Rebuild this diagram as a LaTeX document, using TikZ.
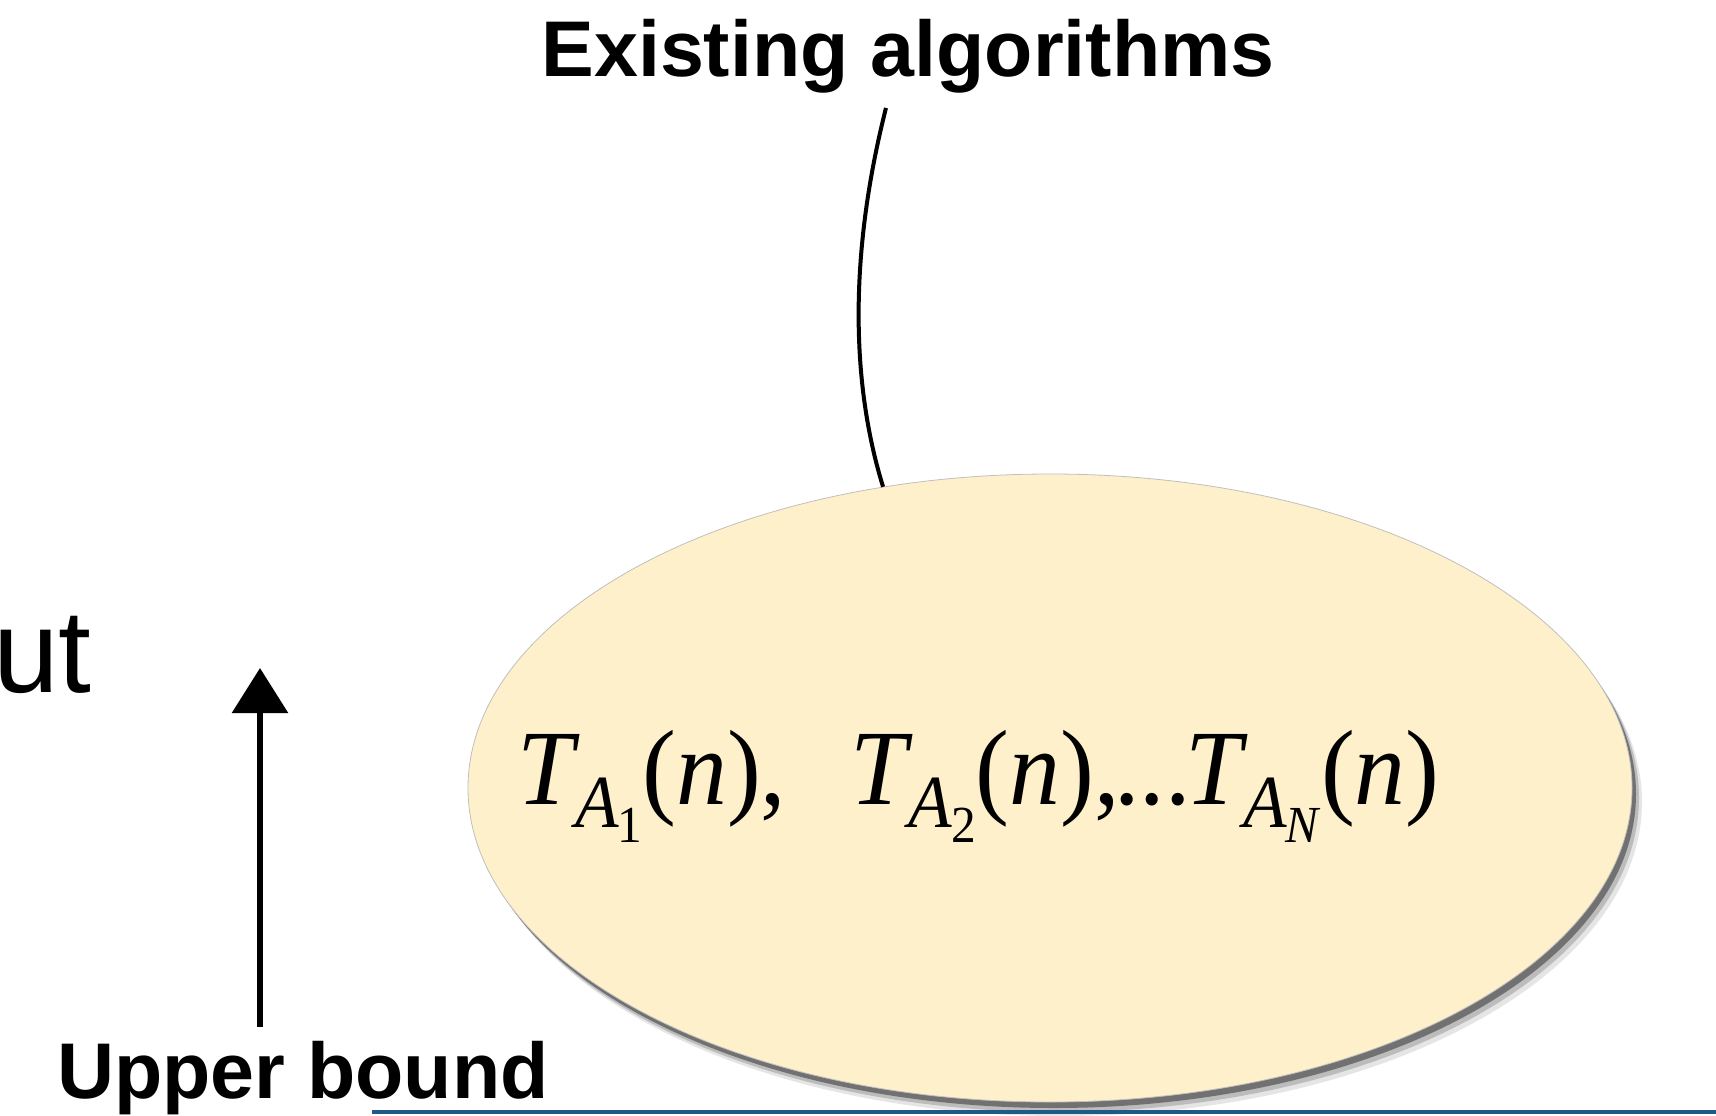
\documentclass[tikz,border=0pt]{standalone}
\usepackage{fontspec}
\usetikzlibrary{arrows.meta,shadows,shapes.geometric}
\newfontfamily\hv{Liberation Sans}
\newfontfamily\tm[FakeStretch=0.95]{Liberation Serif}
\definecolor{cream}{HTML}{FDF0CB}
\definecolor{rule}{HTML}{1F5A87}
\newcommand{\tsub}[1]{\textit{T}\kern-0.04em\raisebox{-0.22em}{\fontsize{75}{75}\selectfont\textit{A}\kern-0.02em\raisebox{-0.2em}{\fontsize{52}{52}\selectfont #1}}}
\begin{document}
\begin{tikzpicture}[x=1pt,y=-1pt,
  bigbold/.style={font=\hv\bfseries\fontsize{79}{80}\selectfont, inner sep=0pt},
  blob/.style={ellipse, fill=cream, draw=black!25, line width=0.8pt, inner sep=0pt,
     minimum width=1164pt, minimum height=628pt,
     drop shadow={shadow xshift=10pt,shadow yshift=-14pt,opacity=.10,fill=black},
     drop shadow={shadow xshift=7pt,shadow yshift=-10pt,opacity=.18,fill=black},
     drop shadow={shadow xshift=4pt,shadow yshift=-6pt,opacity=.4,fill=black}},
  leader/.style={line width=4pt, black},
  uparrow/.style={line width=6pt, -{Triangle[width=55pt,length=45pt]}}
]
\useasboundingbox (0,0) rectangle (1716,1116);
\node[blob] (ell) at (1050,788) {};
\node[inner sep=0pt, anchor=base west, font=\tm\fontsize{107}{110}\selectfont] (formula) at (517,804)
  {\tsub{1}(\textit{n}),\hspace{0.6em}\tsub{2}(\textit{n}),\kern-0.05em...\kern-0.05em\tsub{\textit{N}}(\textit{n})};
\node[bigbold, anchor=base] (exist) at (908,77) {Existing algorithms};
\node[bigbold, anchor=base west] (upper) at (57,1098) {Upper bound};
\node[inner sep=0pt, anchor=base east, font=\hv\fontsize{118}{120}\selectfont] (ut) at (92,692) {ut};
\draw[leader] ([xshift=-22pt,yshift=-14pt]exist.south) .. controls (850,250) and (850,380) .. (ell.119);
\coordinate (abot) at (260,1027);
\coordinate (atop) at (260,668);
\draw[uparrow] (abot) -- (atop);
\coordinate (rl) at (372,1112);
\coordinate (rr) at (1716,1112);
\draw[rule, line width=4pt] (rl) -- (rr);
\end{tikzpicture}
\end{document}
